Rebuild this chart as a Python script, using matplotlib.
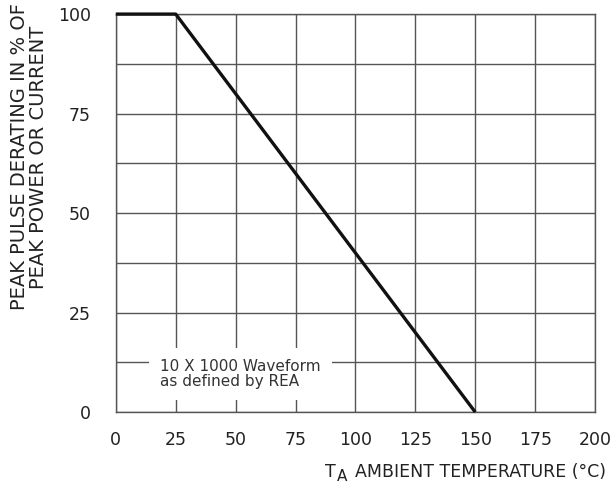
import numpy as np
import matplotlib.pyplot as plt

plt.rcParams['font.family'] = ['DejaVu Sans']

temp = [0, 25, 150]
derating = [100, 100, 0]
x_ticks = [0, 25, 50, 75, 100, 125, 150, 175, 200]
y_ticks = [0, 25, 50, 75, 100]
y_grid = np.arange(0, 101, 12.5)

fig = plt.figure(figsize=(6.16, 4.86), dpi=100)
ax = fig.add_axes([0.188, 0.152, 0.778, 0.819])

ax.set_xlim(0, 200)
ax.set_ylim(0, 100)
ax.set_xticks(x_ticks)
ax.set_yticks(y_ticks)
ax.set_yticks(y_grid, minor=True)
ax.tick_params(which='both', length=0)
ax.tick_params(axis='x', pad=13.5, labelsize=12.5, colors='#222222')
ax.tick_params(axis='y', pad=18, labelsize=12.5, colors='#222222')
ax.grid(True, which='major', axis='x', color='#555555', lw=1)
ax.grid(True, which='both', axis='y', color='#555555', lw=1)
for s in ax.spines.values():
	s.set_color('#555555')
	s.set_linewidth(1)

ax.plot(temp, derating, color='#111111', lw=2.4, solid_capstyle='butt', clip_on=False, zorder=5)

ax.text(18.4, 9.6, "10 X 1000 Waveform\nas defined by REA", fontsize=11, color='#333333',
	va='center', ha='left', linespacing=1.0, zorder=6,
	bbox=dict(facecolor='white', edgecolor='none', pad=8))

fig.text(0.047, 0.677, "PEAK PULSE DERATING IN % OF\nPEAK POWER OR CURRENT", rotation=90,
	ha='center', va='center', fontsize=14, color='#222222', linespacing=1.05)

# x label: T with a lowered A, then the rest
fig.text(325 / 616, 0.0185, "T", ha='left', va='baseline', fontsize=12.5, color='#222222')
fig.text(337 / 616, 0.0103, "A", ha='left', va='baseline', fontsize=11, color='#222222')
fig.text(355 / 616, 0.0185, "AMBIENT TEMPERATURE (°C)", ha='left', va='baseline',
	fontsize=12.5, color='#222222')

fig.savefig('out.png', dpi=100)
